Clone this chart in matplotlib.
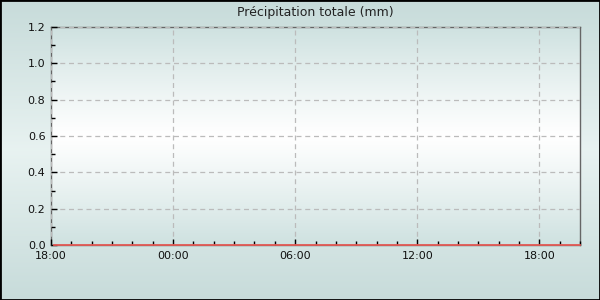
import datetime as dt

import matplotlib
matplotlib.use("Agg")
import matplotlib.dates as mdates
import matplotlib.pyplot as plt
import numpy as np
from matplotlib.patches import Rectangle

# Data: total rain (mm) (flat zero all period)
times = [
    "2024-01-01 18:10", "2024-01-01 19:00", "2024-01-01 20:00", "2024-01-01 21:00",
    "2024-01-01 22:00", "2024-01-01 23:00", "2024-01-02 00:00", "2024-01-02 01:00",
    "2024-01-02 02:00", "2024-01-02 03:00", "2024-01-02 04:00", "2024-01-02 05:00",
    "2024-01-02 06:00", "2024-01-02 07:00", "2024-01-02 08:00", "2024-01-02 09:00",
    "2024-01-02 10:00", "2024-01-02 11:00", "2024-01-02 12:00", "2024-01-02 13:00",
    "2024-01-02 14:00", "2024-01-02 15:00", "2024-01-02 16:00", "2024-01-02 17:00",
    "2024-01-02 18:00", "2024-01-02 19:00", "2024-01-02 20:00",
]
rain = [
    0.0, 0.0, 0.0, 0.0, 0.0, 0.0, 0.0, 0.0, 0.0,
    0.0, 0.0, 0.0, 0.0, 0.0, 0.0, 0.0, 0.0, 0.0,
    0.0, 0.0, 0.0, 0.0, 0.0, 0.0, 0.0, 0.0, 0.0,
]
x_start = "2024-01-01 18:00"
x_end = "2024-01-02 20:00"
y_max = 1.2
title = "Précipitation totale (mm)"

t = [dt.datetime.strptime(s, "%Y-%m-%d %H:%M") for s in times]
t0 = dt.datetime.strptime(x_start, "%Y-%m-%d %H:%M")
t1 = dt.datetime.strptime(x_end, "%Y-%m-%d %H:%M")

fig = plt.figure(figsize=(6, 3), dpi=100)

# figure background gradient (teal edges, pale middle)
bg = fig.add_axes([0, 0, 1, 1], zorder=-10)
g = np.abs(np.linspace(-1, 1, 256))[:, None]
edge = np.array([0.78, 0.86, 0.855])
mid = np.array([0.91, 0.95, 0.945])
bg.imshow(mid + (edge - mid) * g[..., None], aspect="auto", extent=[0, 1, 0, 1])
bg.set_axis_off()
bg.add_patch(Rectangle((0, 0), 1, 1, transform=bg.transAxes, fill=False,
                       edgecolor="black", linewidth=2))

ax = fig.add_axes([51 / 600, 55 / 300, 529 / 600, 218 / 300])
# plot area gradient (light teal top/bottom, white middle)
pe = np.array([0.81, 0.885, 0.88])
pm = np.array([1.0, 1.0, 1.0])
gp = np.abs(np.linspace(-1, 1, 256))[:, None] ** 1.1
ax.imshow(pm + (pe - pm) * gp[..., None], aspect="auto",
          extent=[0, 1, 0, 1], transform=ax.transAxes, zorder=0)

ax.plot(t, rain, color="#e45a55", linewidth=1.3, zorder=3, clip_on=False)

ax.set_xlim(t0, t1)
ax.set_ylim(0, y_max)
ax.set_title(title, fontsize=9, pad=8, color="#222222")

ax.xaxis.set_major_locator(mdates.HourLocator(byhour=[0, 6, 12, 18]))
ax.xaxis.set_minor_locator(mdates.HourLocator())
ax.xaxis.set_major_formatter(mdates.DateFormatter("%H:%M"))
ax.set_yticks(np.arange(0, 1.21, 0.2))
ax.set_yticks(np.arange(0.1, 1.2, 0.2), minor=True)
ax.yaxis.set_major_formatter(matplotlib.ticker.FormatStrFormatter("%.1f"))

ax.tick_params(axis="both", which="major", direction="in", length=4,
               width=1, labelsize=8, colors="black", labelcolor="#111111")
ax.tick_params(axis="both", which="minor", direction="in", length=3, width=1)
ax.tick_params(axis="x", which="major", pad=4)
ax.tick_params(axis="y", which="major", pad=4)

ax.grid(True, which="major", linestyle=(0, (4, 3)), color="#bbbbbb", linewidth=0.9)
ax.set_axisbelow(False)
for sp in ax.spines.values():
    sp.set_color("#666666")
    sp.set_linewidth(1)

fig.savefig("out.png", dpi=100)
